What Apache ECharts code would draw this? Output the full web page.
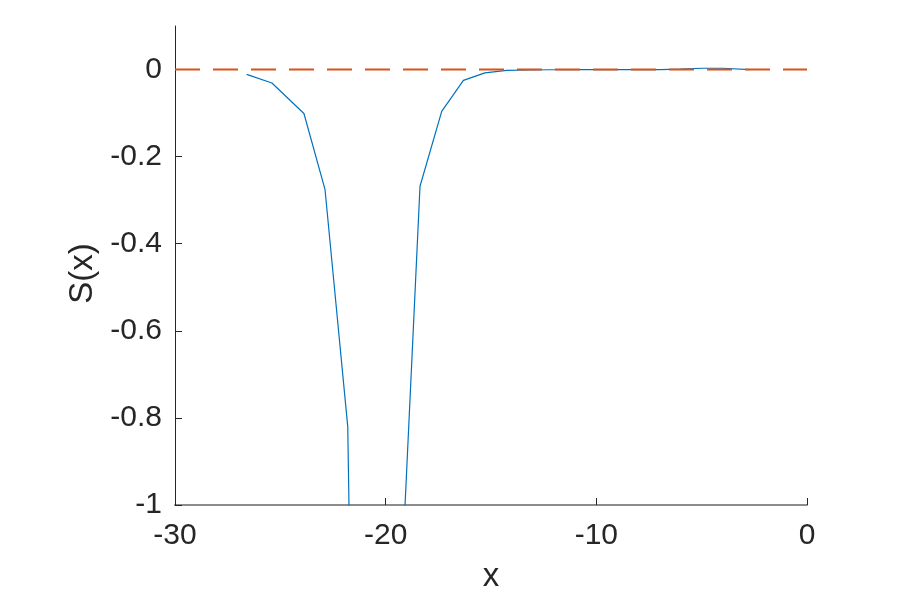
<!DOCTYPE html>
<html>
<head>
<meta charset="utf-8">
<script src="https://cdn.jsdelivr.net/npm/echarts@6/dist/echarts.min.js"></script>
<style>
html,body{margin:0;padding:0;background:#fff;}
#main{width:904px;height:598px;}
</style>
</head>
<body>
<div id="main"></div>
<script>
// Data
var sX = [-26.6, -25.4, -23.88, -22.88, -21.8, -20.6, -19.4, -18.37, -17.34, -16.31, -15.29, -14.25, -13.2, -12.2, -11.2, -10.1, -9.1, -8.1, -7.0, -6.0, -5.0, -4.0, -2.7];
var sY = [-0.011, -0.031, -0.101, -0.275, -0.82, -4.5, -1.33, -0.268, -0.096, -0.025, -0.0077, -0.002, -0.001, -0.0005, -0.0003, 0, 0, 0, 0, 0.001, 0.003, 0.003, 0];
var refX = [-30, 0];
var refY = [0, 0];
var xTicks = [-30, -20, -10, 0];
var yTicks = [-1, -0.8, -0.6, -0.4, -0.2, 0];

var sData = sX.map(function (x, i) { return [x, sY[i]]; });
var refData = refX.map(function (x, i) { return [x, refY[i]]; });

var textColor = '#262626';
var fontFam = '"Liberation Sans", Arial, Helvetica, sans-serif';
var chart = echarts.init(document.getElementById('main'), null, { renderer: 'canvas' });
chart.setOption({
  animation: false,
  backgroundColor: '#ffffff',
  grid: { left: 175, right: 97, top: 26, bottom: 92, containLabel: false },
  xAxis: {
    type: 'value', min: -30, max: 0, interval: 10,
    name: 'x', nameLocation: 'middle', nameGap: 55,
    nameTextStyle: { fontSize: 33, color: textColor, fontFamily: fontFam },
    axisLine: { show: true, onZero: false, lineStyle: { color: '#8c8c8c', width: 2 } },
    axisTick: { show: true, inside: true, length: 7, lineStyle: { color: textColor } },
    axisLabel: { fontSize: 30, color: textColor, fontFamily: fontFam, margin: 16 },
    splitLine: { show: false }
  },
  yAxis: {
    type: 'value', min: -1, max: 0.1,
    name: 'S(x)', nameLocation: 'middle', nameGap: 73, nameRotate: 90,
    nameTextStyle: { fontSize: 33, color: textColor, fontFamily: fontFam, padding: [0, 16, 0, 0] },
    axisLine: { show: true, onZero: false, lineStyle: { color: textColor, width: 1 } },
    axisTick: { show: true, inside: true, length: 7, customValues: yTicks, lineStyle: { color: textColor } },
    axisLabel: { fontSize: 30, color: textColor, fontFamily: fontFam, margin: 13, customValues: yTicks,
      formatter: function (v) { return String(Math.round(v * 10) / 10); } },
    splitLine: { show: false }
  },
  series: [
    {
      type: 'line', data: sData, showSymbol: false, symbol: 'none', clip: true,
      lineStyle: { color: '#0072BD', width: 1.2 }, z: 2
    },
    {
      type: 'line', data: refData, showSymbol: false, symbol: 'none',
      lineStyle: { color: '#D95319', width: 2, type: [25, 13] }, z: 3
    }
  ]
});
</script>
</body>
</html>
